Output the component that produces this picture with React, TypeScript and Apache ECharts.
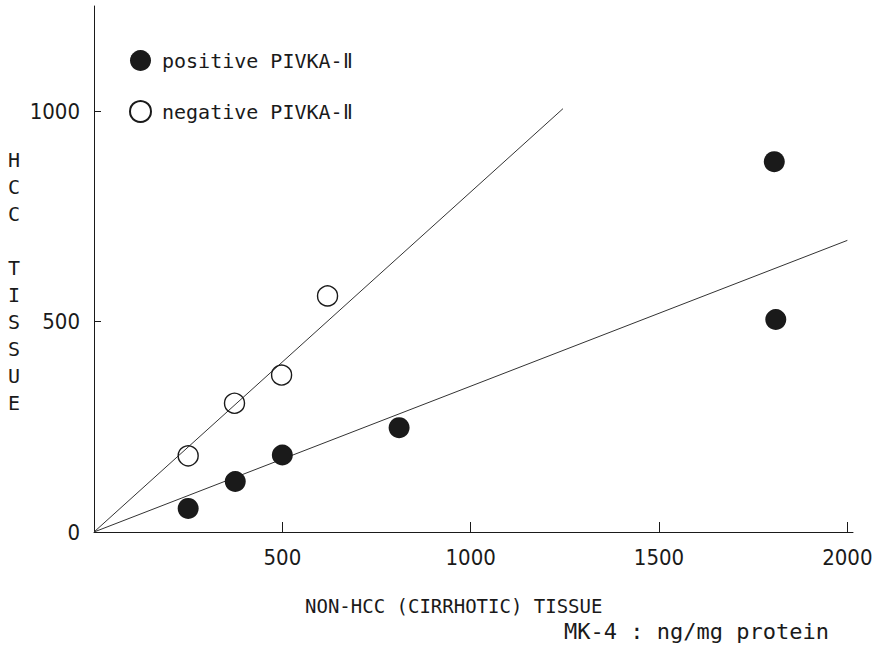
import React, { useEffect, useRef } from "react";
import * as echarts from "echarts";

const positiveLabel = "positive PIVKA-Ⅱ";
const negativeLabel = "negative PIVKA-Ⅱ";
const positivePoints: [number, number][] = [
  [250, 56], [375, 120], [500, 183], [810, 248], [1806, 880], [1810, 505],
];
const negativePoints: [number, number][] = [
  [250, 181], [373, 306], [498, 373], [620, 561],
];
const lineNegative: [number, number][] = [[0, 0], [1245, 1006]];
const linePositive: [number, number][] = [[0, 0], [2000, 693]];
const xTickValues = [500, 1000, 1500, 2000];
const yLabelValues = [0, 500, 1000];
const yTickValues = [500, 1000];
const xTitle = "NON-HCC (CIRRHOTIC) TISSUE";
const unitTitle = "MK-4 : ng/mg protein";
const yTitle = "H\nC\nC\n\nT\nI\nS\nS\nU\nE";

const MONO = "'DejaVu Sans Mono', 'Liberation Mono', monospace";
const NARROW = "'Liberation Sans Narrow', 'DejaVu Sans Condensed', 'Liberation Sans', sans-serif";
const INK = "#1a1a1a";

export default function App() {
  const ref = useRef<HTMLDivElement>(null);
  useEffect(() => {
    if (!ref.current) return;
    const chart = echarts.init(ref.current, null, { renderer: "svg" });
    chart.setOption({
      animation: false,
      backgroundColor: "#ffffff",
      grid: {
        left: 94,
        top: 6,
        right: 19,
        bottom: 116,
        containLabel: false,
        outerBoundsMode: "none",
      },
      xAxis: {
        type: "value",
        min: 0,
        max: 2015,
        interval: 500,
        splitLine: { show: false },
        axisLine: { show: true, lineStyle: { color: INK, width: 1 } },
        axisTick: { show: true, inside: true, length: 10, customValues: xTickValues, lineStyle: { color: INK } },
        axisLabel: {
          customValues: xTickValues,
          formatter: (v: number) => String(v),
          margin: 14,
          color: INK,
          fontFamily: NARROW,
          fontSize: 22,
        },
      },
      yAxis: {
        type: "value",
        min: 0,
        max: 1250,
        interval: 500,
        splitLine: { show: false },
        axisLine: { show: true, lineStyle: { color: INK, width: 1 } },
        axisTick: { show: true, inside: true, length: 7, customValues: yTickValues, lineStyle: { color: INK } },
        axisLabel: {
          customValues: yLabelValues,
          formatter: (v: number) => String(v),
          margin: 14,
          color: INK,
          fontFamily: NARROW,
          fontSize: 22,
        },
      },
      legend: {
        show: true,
        orient: "vertical",
        left: 129,
        top: 50,
        padding: 0,
        itemWidth: 21,
        itemHeight: 21,
        itemGap: 29,
        icon: "circle",
        data: [positiveLabel, negativeLabel],
        textStyle: { color: INK, fontFamily: MONO, fontSize: 20, padding: [0, 0, 0, 6] },
      },
      series: [
        {
          type: "line",
          data: lineNegative,
          showSymbol: false,
          symbol: "none",
          lineStyle: { color: "#333", width: 1 },
          silent: true,
          z: 1,
        },
        {
          type: "line",
          data: linePositive,
          showSymbol: false,
          symbol: "none",
          lineStyle: { color: "#333", width: 1 },
          silent: true,
          z: 1,
        },
        {
          name: positiveLabel,
          type: "scatter",
          data: positivePoints,
          symbol: "circle",
          symbolSize: 21,
          itemStyle: { color: INK, opacity: 1 },
          z: 3,
        },
        {
          name: negativeLabel,
          type: "scatter",
          data: negativePoints,
          symbol: "circle",
          symbolSize: 20,
          itemStyle: { color: "rgba(255,255,255,0)", borderColor: INK, borderWidth: 1.4, opacity: 1 },
          z: 3,
        },
      ],
      graphic: [
        {
          type: "text",
          left: 8,
          top: 146,
          style: {
            text: yTitle,
            fill: INK,
            font: `20px ${MONO}`,
            lineHeight: 27,
          },
        },
        {
          type: "text",
          left: 305,
          top: 596,
          style: { text: xTitle, fill: INK, font: `19px ${MONO}` },
        },
        {
          type: "text",
          left: 564,
          top: 620,
          style: { text: unitTitle, fill: INK, font: `22px ${MONO}` },
        },
      ],
    });
    return () => chart.dispose();
  }, []);
  return (
    <div
      ref={ref}
      style={{ position: "absolute", left: 0, top: 0, width: 872, height: 648 }}
    />
  );
}
